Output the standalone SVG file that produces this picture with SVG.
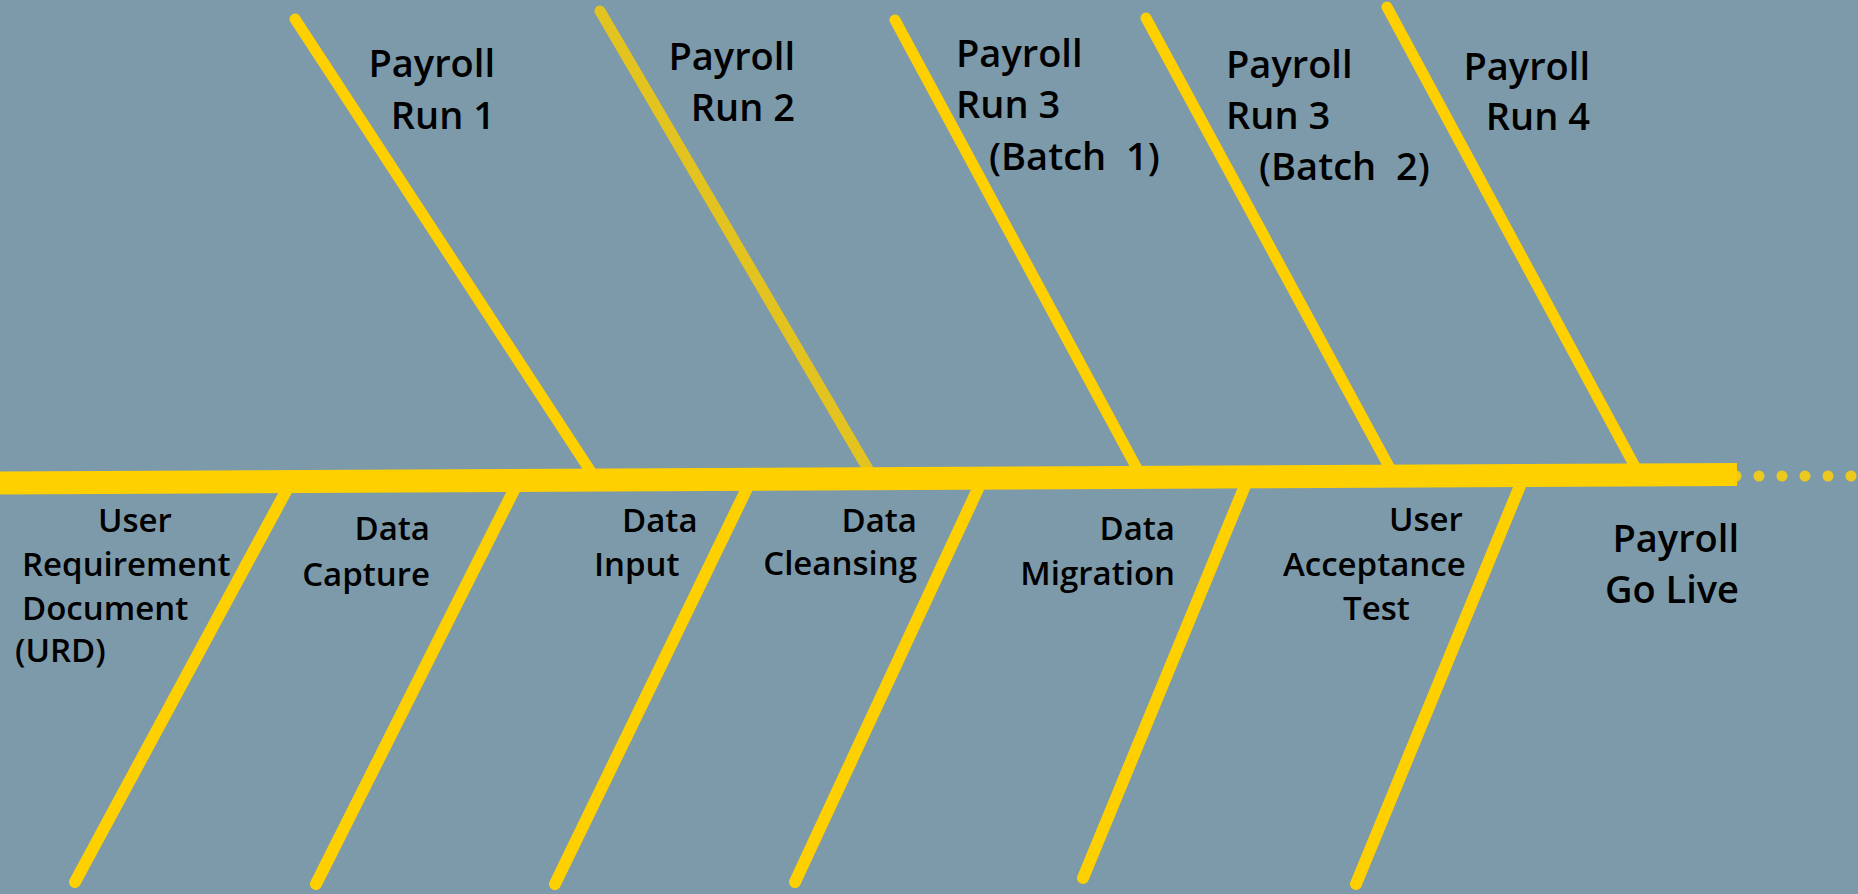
<svg xmlns="http://www.w3.org/2000/svg" width="1858" height="894" viewBox="0 0 1858 894">
<style>
.bg{fill:#7D9AAA}
.bone{stroke:#FFD000;stroke-width:11;stroke-linecap:round;fill:none}
.lbone{stroke:#FFD000;stroke-width:12;stroke-linecap:round;fill:none}
.bone2{stroke:#E3C320}
.spine{stroke:#FFD000;stroke-width:23;stroke-linecap:butt;fill:none}
.dots{stroke:#EBC91E;stroke-width:11;stroke-linecap:round;stroke-dasharray:0 23;fill:none}
text{font-family:"Open Sans","Liberation Sans",sans-serif;font-weight:600;fill:#000;white-space:pre}
.big{font-size:38px}
.small{font-size:33px}
</style>
<rect class="bg" x="0" y="0" width="1858" height="894"/>
<g id="connectors">
<line class="bone" x1="295" y1="19" x2="595" y2="478"/>
<line class="bone bone2" x1="600" y1="11" x2="872" y2="476"/>
<line class="bone" x1="895" y1="20" x2="1141" y2="476"/>
<line class="bone" x1="1146" y1="18" x2="1393" y2="474"/>
<line class="bone" x1="1387" y1="7" x2="1639" y2="474"/>
<line class="lbone" x1="292" y1="480" x2="75" y2="882"/>
<line class="lbone" x1="520" y1="478" x2="316" y2="884"/>
<line class="lbone" x1="752" y1="478" x2="555" y2="884"/>
<line class="lbone" x1="983" y1="478" x2="795" y2="882"/>
<line class="lbone" x1="1249" y1="476" x2="1083" y2="878"/>
<line class="lbone" x1="1524" y1="476" x2="1356" y2="884"/>
<line class="dots" x1="1736" y1="476" x2="1858" y2="476"/>
<line class="spine" x1="0" y1="483" x2="1737" y2="474.5"/>
</g>
<g id="payroll-run-1"><text class="big" text-anchor="end" x="495" y="77">Payroll</text><text class="big" text-anchor="end" x="495" y="129">Run 1</text></g>
<g id="payroll-run-2"><text class="big" text-anchor="end" x="795" y="70">Payroll</text><text class="big" text-anchor="end" x="795" y="121">Run 2</text></g>
<g id="payroll-run-3-b1"><text class="big" x="956" y="67">Payroll</text><text class="big" x="956" y="118">Run 3</text><text class="big" x="989" y="170" xml:space="preserve">(Batch  1)</text></g>
<g id="payroll-run-3-b2"><text class="big" x="1226" y="78">Payroll</text><text class="big" x="1226" y="129">Run 3</text><text class="big" x="1259" y="180" xml:space="preserve">(Batch  2)</text></g>
<g id="payroll-run-4"><text class="big" text-anchor="end" x="1590" y="80">Payroll</text><text class="big" text-anchor="end" x="1590" y="130">Run 4</text></g>
<g id="urd"><text class="small" x="98" y="532">User</text><text class="small" x="22" y="576">Requirement</text><text class="small" x="22" y="620">Document</text><text class="small" x="15" y="662">(URD)</text></g>
<g id="data-capture"><text class="small" text-anchor="end" x="430" y="540">Data</text><text class="small" text-anchor="end" x="430" y="586">Capture</text></g>
<g id="data-input"><text class="small" x="622" y="532">Data</text><text class="small" x="594" y="576">Input</text></g>
<g id="data-cleansing"><text class="small" text-anchor="end" x="917" y="532">Data</text><text class="small" text-anchor="end" x="917" y="575">Cleansing</text></g>
<g id="data-migration"><text class="small" text-anchor="end" x="1175" y="540">Data</text><text class="small" text-anchor="end" x="1175" y="585">Migration</text></g>
<g id="uat"><text class="small" x="1389" y="531">User</text><text class="small" x="1283" y="576">Acceptance</text><text class="small" x="1343" y="620">Test</text></g>
<g id="go-live"><text class="big" text-anchor="end" x="1739" y="552">Payroll</text><text class="big" text-anchor="end" x="1739" y="603">Go Live</text></g>
</svg>
